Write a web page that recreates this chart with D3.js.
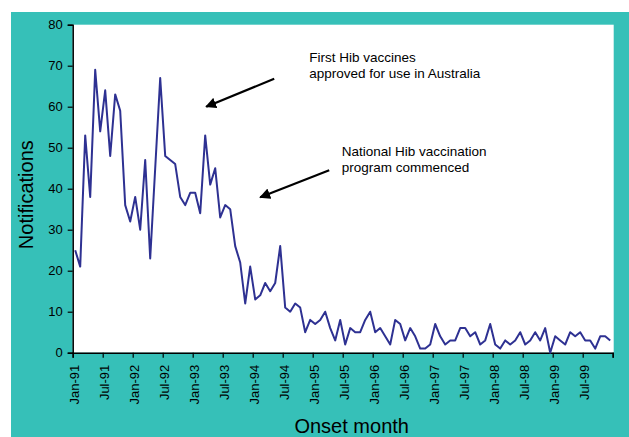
<!DOCTYPE html>
<html>
<head>
<meta charset="utf-8">
<script src="https://cdn.jsdelivr.net/npm/d3@7"></script>
<style>
  body { margin: 0; background: #fff; }
  svg { display: block; font-family: Arial, "Liberation Sans", sans-serif; }
</style>
</head>
<body>
<div id="dataviz_area"></div>
<script>
// monthly notifications, Jan-91 .. Dec-99
const tickLabels = ["Jan-91","Jul-91","Jan-92","Jul-92","Jan-93","Jul-93","Jan-94","Jul-94","Jan-95",
  "Jul-95","Jan-96","Jul-96","Jan-97","Jul-97","Jan-98","Jul-98","Jan-99","Jul-99"];

const notifications = [
  25,21,53,38,69,54,64,48,63,59,36,32,   // 1991
  38,30,47,23,45,67,48,47,46,38,36,39,   // 1992
  39,34,53,41,45,33,36,35,26,22,12,21,   // 1993
  13,14,17,15,17,26,11,10,12,11,5,8,     // 1994
  7,8,10,6,3,8,2,6,5,5,8,10,             // 1995
  5,6,4,2,8,7,3,6,4,1,1,2,               // 1996
  7,4,2,3,3,6,6,4,5,2,3,7,               // 1997
  2,1,3,2,3,5,2,3,5,3,6,0,               // 1998
  4,3,2,5,4,5,3,3,1,4,4,3                // 1999
];

const yTicks = [0,10,20,30,40,50,60,70,80];

// annotations in data space (month index, value)
const noteLines = [
  ["First Hib vaccines", "approved for use in Australia"],
  ["National Hib vaccination", "program commenced"]
];
const notePos = [{m: 47.3, v: 70.8}, {m: 53.8, v: 47.9}];
const arrows = [
  {from: {m: 40.3, v: 66.8}, to: {m: 26.7, v: 60.0}},
  {from: {m: 51.3, v: 44.5}, to: {m: 37.5, v: 37.9}}
];

const canvas_width = 629, canvas_height = 437;
const margin = {top: 24.7, right: 16.3, bottom: 84.3, left: 72.7};
const graph_width = canvas_width - margin.left - margin.right,
  graph_height = canvas_height - margin.top - margin.bottom;

const svg = d3.select("#dataviz_area")
  .append("svg")
    .attr("width", canvas_width)
    .attr("height", canvas_height);

// teal frame
svg.append("rect")
  .attr("x", 11).attr("y", 12)
  .attr("width", canvas_width - 11).attr("height", canvas_height - 12)
  .attr("fill", "#36c0b8");

const g = svg.append("g")
  .attr("transform", "translate(" + margin.left + "," + margin.top + ")");

// white plot area
g.append("rect")
  .attr("x", 0).attr("y", 0)
  .attr("width", graph_width + 1).attr("height", graph_height)
  .attr("fill", "#fff");

const x = d3.scaleLinear().domain([0, notifications.length]).range([0, graph_width]);
const y = d3.scaleLinear().domain([0, 80]).range([graph_height, 0]);

// x axis: ticks every 6 months on category boundaries
const xAxis = g.append("g")
  .attr("transform", "translate(0," + graph_height + ")")
  .call(d3.axisBottom(x)
    .tickValues(d3.range(0, notifications.length + 1, 6))
    .tickSize(5)
    .tickFormat((d, i) => tickLabels[i] || ""));
xAxis.select(".domain").attr("stroke", "#000").attr("stroke-width", 1.5);
xAxis.selectAll(".tick line").attr("stroke", "#000").attr("stroke-width", 1.2);
xAxis.selectAll(".tick text")
  .attr("font-size", 13)
  .attr("fill", "#000")
  .attr("text-anchor", "end")
  .attr("transform", "rotate(-90)")
  .attr("x", -12)
  .attr("y", 1)
  .attr("dy", "0.35em");

// y axis
const yAxis = g.append("g")
  .call(d3.axisLeft(y).tickValues(yTicks).tickSize(5).tickPadding(5));
yAxis.select(".domain").attr("stroke", "#000").attr("stroke-width", 1.5);
yAxis.selectAll(".tick line").attr("stroke", "#000").attr("stroke-width", 1.2);
yAxis.selectAll(".tick text").attr("font-size", 13).attr("fill", "#000");

// the data
g.append("path")
  .datum(notifications)
  .attr("fill", "none")
  .attr("stroke", "#2e3192")
  .attr("stroke-width", 2)
  .attr("stroke-linejoin", "round")
  .attr("d", d3.line()
    .x((d, i) => x(i + 0.5))
    .y(d => y(d)));

// annotations
svg.append("defs").append("marker")
  .attr("id", "arrowhead")
  .attr("viewBox", "0 0 10 10")
  .attr("refX", 9).attr("refY", 5)
  .attr("markerWidth", 5).attr("markerHeight", 5)
  .attr("markerUnits", "strokeWidth")
  .attr("orient", "auto")
  .append("path")
    .attr("d", "M0,0 L10,5 L0,10 z")
    .attr("fill", "#000");

arrows.forEach(a => {
  g.append("line")
    .attr("x1", x(a.from.m)).attr("y1", y(a.from.v))
    .attr("x2", x(a.to.m)).attr("y2", y(a.to.v))
    .attr("stroke", "#000")
    .attr("stroke-width", 2.2)
    .attr("marker-end", "url(#arrowhead)");
});

noteLines.forEach((lines, k) => {
  const t = g.append("text")
    .attr("x", x(notePos[k].m))
    .attr("y", y(notePos[k].v))
    .attr("font-size", 13.5)
    .attr("fill", "#000");
  lines.forEach((line, j) => {
    t.append("tspan")
      .attr("x", x(notePos[k].m))
      .attr("dy", j == 0 ? 0 : 15.6)
      .text(line);
  });
});

// axis titles
svg.append("text")
  .attr("x", margin.left + x(notifications.length / 2) + 9)
  .attr("y", 433)
  .attr("text-anchor", "middle")
  .attr("font-size", 20)
  .attr("fill", "#000")
  .text("Onset month");

svg.append("text")
  .attr("transform", "translate(33," + (margin.top + graph_height / 2 + 6) + ") rotate(-90)")
  .attr("text-anchor", "middle")
  .attr("font-size", 20)
  .attr("fill", "#000")
  .text("Notifications");
</script>
</body>
</html>
